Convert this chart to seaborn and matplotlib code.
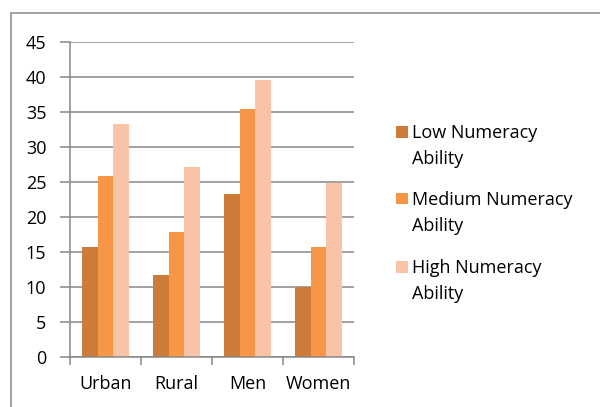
import matplotlib
matplotlib.use("Agg")
import matplotlib.pyplot as plt
from matplotlib.patches import Rectangle
from matplotlib.ticker import FixedLocator
import seaborn as sns
import pandas as pd

# Survey shares (%) by numeracy ability level
groups = ["Urban", "Rural", "Men", "Women"]
levels = ["Low Numeracy\nAbility", "Medium Numeracy\nAbility", "High Numeracy\nAbility"]
low_vals = [15.7, 11.7, 23.3, 10.0]
medium_vals = [25.8, 17.9, 35.4, 15.7]
high_vals = [33.3, 27.1, 39.6, 24.9]
y_ticks = [0, 5, 10, 15, 20, 25, 30, 35, 40, 45]

colors = ["#CC7B38", "#F79646", "#F9C3A7"]
grid_gray = "#878787"
font_size = 13

df = pd.DataFrame({
    "group": groups * 3,
    "level": [levels[0]] * 4 + [levels[1]] * 4 + [levels[2]] * 4,
    "value": low_vals + medium_vals + high_vals,
})

sns.set_style("white")
plt.rcParams["font.family"] = ["Open Sans", "DejaVu Sans"]

fig = plt.figure(figsize=(6.0, 4.07), dpi=100)
ax = fig.add_axes([70 / 600, 1 - 356.5 / 407, 284 / 600, 314.2 / 407])

sns.barplot(data=df, x="group", y="value", hue="level", order=groups,
            hue_order=levels, palette=colors, width=0.66, saturation=1,
            edgecolor="none", linewidth=0, legend=False, ax=ax)

ax.set_xlim(-0.5, len(groups) - 0.5)
ax.set_ylim(0, 45)
ax.set_yticks(y_ticks)
ax.yaxis.grid(True, color=grid_gray, linewidth=1.1)
ax.set_axisbelow(True)
ax.set_xlabel("")
ax.set_ylabel("")

for side in ["top", "right"]:
    ax.spines[side].set_visible(False)
for side in ["left", "bottom"]:
    ax.spines[side].set_color(grid_gray)
    ax.spines[side].set_linewidth(1.1)

ax.tick_params(axis="y", length=7, width=1.1, color=grid_gray, labelsize=font_size,
               pad=10, labelcolor="black", left=True)
ax.tick_params(axis="x", which="major", length=0, labelsize=font_size, pad=13,
               labelcolor="black")
ax.xaxis.set_minor_locator(FixedLocator([i - 0.5 for i in range(len(groups) + 1)]))
ax.tick_params(axis="x", which="minor", length=6, width=1.1, color=grid_gray,
               bottom=True)

# legend with swatches aligned to the first text line
legend_top = [132, 199, 267]
for color, label, yc in zip(colors, levels, legend_top):
    fig.add_artist(Rectangle((396 / 600, 1 - (yc + 5.5) / 407), 11.5 / 600, 11.5 / 407,
                             transform=fig.transFigure, facecolor=color,
                             edgecolor="none"))
    fig.text(412 / 600, 1 - (yc - 8) / 407, label, fontsize=font_size, va="top",
             ha="left", color="black", linespacing=1.6)

# chart area border
fig.add_artist(Rectangle((11 / 600, -0.2), 1.2, 1.2 - 12.5 / 407,
                         transform=fig.transFigure, fill=False,
                         edgecolor=grid_gray, linewidth=1.1))

fig.savefig("out.png", dpi=100)
